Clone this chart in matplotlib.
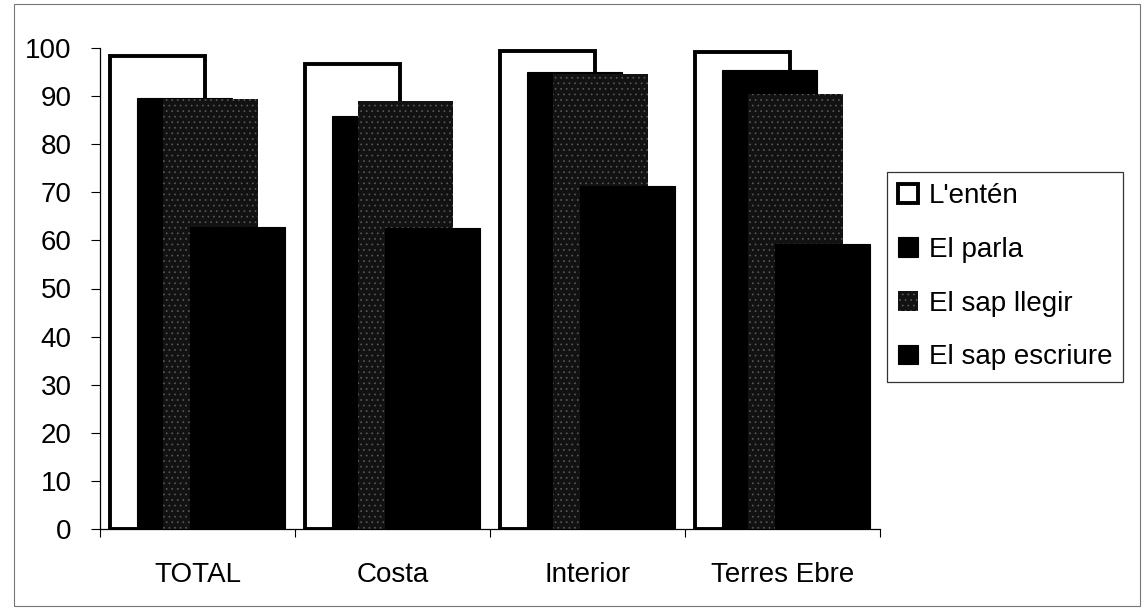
import numpy as np
import matplotlib
matplotlib.use("Agg")
import matplotlib.pyplot as plt
from matplotlib.patches import Rectangle

plt.rcParams["font.family"] = ["Liberation Sans", "DejaVu Sans"]
plt.rcParams["hatch.linewidth"] = 0.5

# data (percent)
categories = ["TOTAL", "Costa", "Interior", "Terres Ebre"]
series_names = ["L'entén", "El parla", "El sap llegir", "El sap escriure"]
enten = [98.3, 96.7, 99.3, 99.2]
parla = [89.6, 85.8, 95.0, 95.5]
llegir = [89.3, 88.9, 94.5, 90.5]
escriure = [62.7, 62.6, 71.3, 59.3]

x = np.arange(len(categories))
width = 0.487
step = 0.137

fig = plt.figure(figsize=(11.44, 6.08), dpi=100)
ax = fig.add_axes([100 / 1144, 1 - 529 / 608, 780 / 1144, 481 / 608])

styles = [
    dict(facecolor="white", edgecolor="black", linewidth=2.8),
    dict(facecolor="black", edgecolor="black", linewidth=0.8),
    dict(facecolor="#121212", edgecolor="#5a5a5a", linewidth=0, hatch="..."),
    dict(facecolor="black", edgecolor="black", linewidth=0.8),
]
values = [enten, parla, llegir, escriure]

for i, (vals, name, st) in enumerate(zip(values, series_names, styles)):
    offs = -0.449 + i * step
    ax.bar(x + offs, vals, width=width, align="edge", label=name,
           zorder=2 + i, **st)

ax.set_xlim(-0.5, 3.5)
ax.set_ylim(0, 100)
ax.set_yticks(np.arange(0, 101, 10))
ax.set_xticks(x)
ax.set_xticklabels(categories)
ax.set_xticks(np.arange(-0.5, 4, 1), minor=True)
ax.tick_params(axis="x", which="major", length=0, pad=24, labelsize=20)
ax.tick_params(axis="x", which="minor", length=6, width=0.8, direction="out")
ax.tick_params(axis="y", length=6.5, width=0.8, pad=14, labelsize=20)
for s in ["top", "right"]:
    ax.spines[s].set_visible(False)
for s in ["left", "bottom"]:
    ax.spines[s].set_linewidth(0.9)

leg = fig.legend(loc="upper left", bbox_to_anchor=(887 / 1144, 1 - 172 / 608),
                 fontsize=20, frameon=True, fancybox=False, edgecolor="black",
                 handlelength=0.7, handleheight=0.7, handletextpad=0.4,
                 labelspacing=1.0, borderpad=0.4, borderaxespad=0)
leg.get_frame().set_linewidth(0.9)

# thin outer frame around the chart area
fig.patches.append(Rectangle((14 / 1144, 2 / 608), 1126 / 1144, 602 / 608,
                             transform=fig.transFigure, fill=False,
                             edgecolor="#777777", linewidth=0.8))

fig.savefig("out.png", dpi=100)
